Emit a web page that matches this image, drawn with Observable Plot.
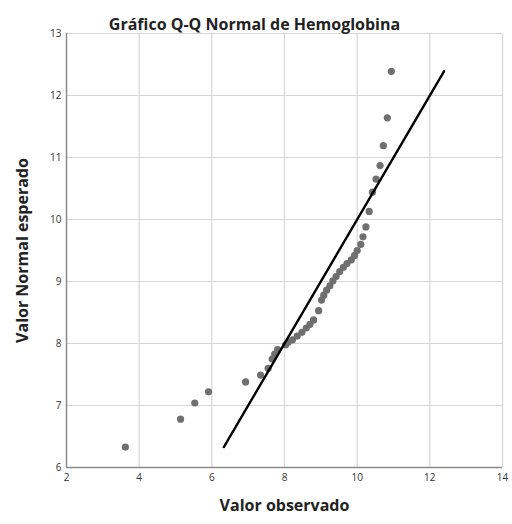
<!DOCTYPE html>
<html>
<head>
<meta charset="utf-8">
<script src="https://cdn.jsdelivr.net/npm/d3@7"></script>
<script src="https://cdn.jsdelivr.net/npm/@observablehq/plot@0.6"></script>
<style>
  html, body { margin: 0; padding: 0; background: white; }
</style>
</head>
<body>
<div id="chart"></div>
<script>
const titleText = "Gráfico Q-Q Normal de Hemoglobina";
const xLabel = "Valor observado";
const yLabel = "Valor Normal esperado";
const xTicks = [2, 4, 6, 8, 10, 12, 14];
const yTicks = [6, 7, 8, 9, 10, 11, 12, 13];

const observed = [3.62, 5.14, 5.53, 5.91, 6.93, 7.34, 7.55, 7.66, 7.73, 7.81, 8.03, 8.10, 8.22, 8.35, 8.48, 8.60, 8.70, 8.80, 8.94, 9.02, 9.08, 9.16, 9.25, 9.33, 9.42, 9.52, 9.62, 9.72, 9.84, 9.93, 10.00, 10.10, 10.16, 10.24, 10.33, 10.42, 10.52, 10.63, 10.72, 10.83, 10.94];
const expected = [6.33, 6.78, 7.04, 7.22, 7.38, 7.49, 7.60, 7.75, 7.83, 7.90, 7.98, 8.02, 8.06, 8.12, 8.18, 8.25, 8.31, 8.38, 8.53, 8.70, 8.78, 8.86, 8.93, 9.01, 9.08, 9.16, 9.23, 9.29, 9.35, 9.42, 9.50, 9.60, 9.72, 9.88, 10.13, 10.44, 10.65, 10.87, 11.19, 11.64, 12.39];

const points = observed.map((x, i) => ({x, y: expected[i]}));
const lineEnds = [d3.min(expected), d3.max(expected)].map(v => ({v}));

const font = "'Open Sans', 'DejaVu Sans', sans-serif";

const chart = Plot.plot({
  width: 512,
  height: 524,
  marginLeft: 66,
  marginRight: 10,
  marginTop: 33,
  marginBottom: 57,
  style: {fontFamily: font, background: "white", overflow: "visible"},
  x: {domain: [2, 14], ticks: xTicks, label: null},
  y: {domain: [6, 13], ticks: yTicks, label: null},
  marks: [
    Plot.gridX(xTicks.slice(1), {stroke: "#d6d6d6", strokeOpacity: 1, strokeWidth: 1.2}),
    Plot.gridY(yTicks.slice(1), {stroke: "#d6d6d6", strokeOpacity: 1, strokeWidth: 1.2}),
    Plot.ruleX([2], {stroke: "#8a8a8a", strokeWidth: 1.5}),
    Plot.ruleY([6], {stroke: "#8a8a8a", strokeWidth: 1.5}),
    Plot.dot(points, {x: "x", y: "y", r: 3.6, fill: "#6f6f6f", stroke: "none"}),
    Plot.line(lineEnds, {x: "v", y: "v", stroke: "black", strokeWidth: 2.4}),
    Plot.axisX({ticks: xTicks, tickSize: 0, tickPadding: 6, fontSize: 10, fill: "#333", label: null, tickFormat: "d"}),
    Plot.axisY({ticks: yTicks, tickSize: 0, tickPadding: 5, fontSize: 10, fill: "#333", label: null, tickFormat: "d"}),
    Plot.text([xLabel], {text: d => d, frameAnchor: "bottom", dy: 43, fontSize: 16, fontWeight: "bold", fill: "#222"}),
    Plot.text([yLabel], {text: d => d, frameAnchor: "left", textAnchor: "middle", dx: -44, rotate: -90, fontSize: 16, fontWeight: "bold", fill: "#222"}),
    Plot.text([titleText], {text: d => d, frameAnchor: "top", dx: -30, dy: -15, fontSize: 16, fontWeight: "bold", fill: "#222"})
  ]
});

document.getElementById("chart").appendChild(chart);
</script>
</body>
</html>
